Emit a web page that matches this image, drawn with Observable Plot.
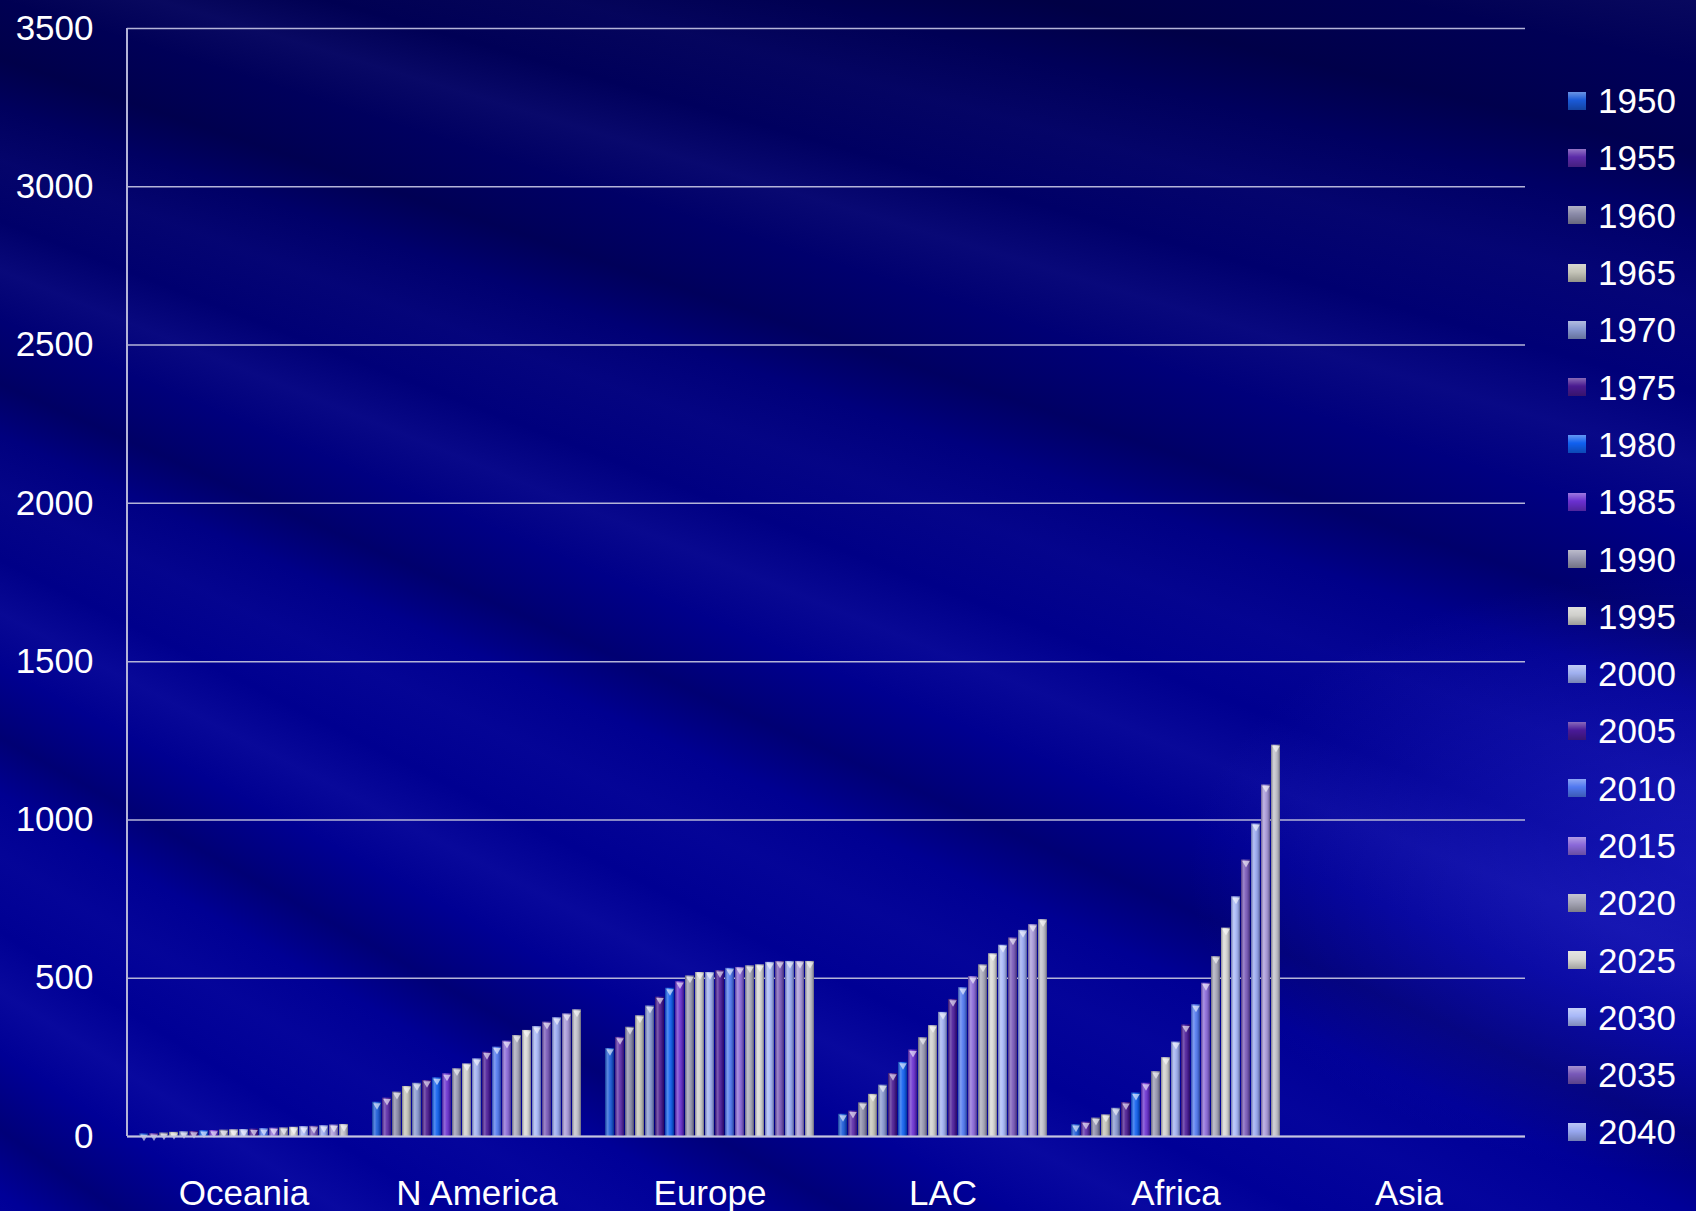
<!DOCTYPE html>
<html>
<head>
<meta charset="utf-8">
<script src="https://cdn.jsdelivr.net/npm/d3@7"></script>
<script src="https://cdn.jsdelivr.net/npm/@observablehq/plot@0.6"></script>
<style>
html, body { margin: 0; padding: 0; }
body {
  width: 1696px; height: 1211px; overflow: hidden; position: relative;
  font-family: "Liberation Sans", Arial, sans-serif;
  background:
    radial-gradient(ellipse 30% 25% at 100% 72%, rgba(70,70,255,0.30), rgba(0,0,0,0) 100%),
    repeating-conic-gradient(from 0deg at -180% -80%, rgba(255,255,255,0) 0deg, rgba(110,110,255,0.08) 0.8deg, rgba(255,255,255,0) 1.6deg, rgba(0,0,30,0.25) 2.6deg, rgba(255,255,255,0) 3.4deg, rgba(90,90,255,0.05) 4.3deg, rgba(255,255,255,0) 5.3deg),
    linear-gradient(to bottom, #000052 0%, #000078 30%, #00008f 55%, #000094 80%, #000098 100%);
}
#chart { position: absolute; left: 0; top: 0; }
#legend { position: absolute; left: 1568px; top: 72px; }
.item { height: 57.3px; display: flex; align-items: center; color: #fff; font-size: 35px; line-height: 1; }
.sw { width: 18px; height: 18px; margin-right: 12px; flex: none; }
</style>
</head>
<body>
<div id="chart"></div>
<div id="legend"></div>
<script>
// ---- data (urban population by region, millions) ----
const years = [1950, 1955, 1960, 1965, 1970, 1975, 1980, 1985, 1990, 1995, 2000,
               2005, 2010, 2015, 2020, 2025, 2030, 2035, 2040, 2045, 2050];
const legendYears = [1950, 1955, 1960, 1965, 1970, 1975, 1980, 1985, 1990, 1995, 2000,
                     2005, 2010, 2015, 2020, 2025, 2030, 2035, 2040];
const regions = ["Oceania", "N America", "Europe", "LAC", "Africa", "Asia"];
const oceania  = [8, 9, 11, 13, 15, 16, 18, 19, 20, 21, 22, 23, 25, 26, 27, 29, 31, 32, 34, 36, 38];
const nAmerica = [108, 121, 140, 158, 168, 177, 185, 198, 214, 229, 245, 266, 282, 301, 319, 335, 347, 361, 375, 387, 400];
const europe   = [278, 313, 345, 381, 412, 440, 468, 489, 507, 518, 518, 524, 531, 534, 539, 542, 550, 553, 553, 553, 553];
const lac      = [70, 80, 106, 133, 162, 199, 234, 273, 312, 350, 392, 433, 470, 505, 542, 577, 604, 627, 651, 669, 685];
const africa   = [37, 45, 58, 68, 89, 107, 137, 168, 205, 249, 298, 352, 416, 484, 568, 658, 757, 873, 987, 1110, 1236];
const asia     = [null, null, null, null, null, null, null, null, null, null, null,
                  null, null, null, null, null, null, null, null, null, null];
const colors = ["#1a5ad8", "#5b2aa8", "#8a8aa8", "#c4c4b8", "#8898d0", "#4a1a90", "#1060f0",
                "#6a30d0", "#9898b0", "#d0d0cc", "#a0b0f0", "#4a1a98", "#5078f0", "#8a68d8",
                "#a8a8b8", "#d8d8d4", "#a8b8f8", "#7858b8", "#98a8f0", "#a898d8", "#c0c0c8"];
const yTicks = [0, 500, 1000, 1500, 2000, 2500, 3000, 3500];

const series = {"Oceania": oceania, "N America": nAmerica, "Europe": europe, "LAC": lac, "Africa": africa, "Asia": asia};
const rows = regions.flatMap(r => years.map((yr, i) => ({region: r, year: yr, value: series[r][i]})));

const W = 1696, H = 1211, mL = 127, mR = 171, mT = 28, mB = 75;
const gridColor = "#b4b4d8";

const chart = Plot.plot({
  width: W, height: H,
  marginLeft: mL, marginRight: mR, marginTop: mT, marginBottom: mB,
  style: {background: "transparent", color: "#ffffff", fontSize: "35px",
          fontFamily: "'Liberation Sans', Arial, sans-serif", overflow: "visible"},
  fx: {domain: regions, padding: 0, label: null, axis: "bottom", tickSize: 0, tickPadding: 44},
  x: {domain: years, paddingInner: 0.14, paddingOuter: 0.6, axis: null},
  y: {domain: [0, 3500], ticks: yTicks, tickFormat: d => String(d), tickSize: 0, tickPadding: 34, label: null},
  color: {type: "ordinal", domain: years, range: colors},
  marks: [
    Plot.gridY(yTicks, {stroke: gridColor, strokeOpacity: 1, strokeWidth: 1.5}),
    Plot.barY(rows, {fx: "region", x: "year", y: "value", fill: "year"}),
    Plot.barY(rows, {fx: "region", x: "year", y: "value", fill: "url(#shine)"}),
    Plot.dot(rows, {fx: "region", x: "year", y: "value", symbol: "triangle", rotate: 180,
                    r: 2.8, fill: "#ffffff", fillOpacity: 0.6, dy: 3}),
    Plot.ruleY([0], {stroke: "#c4c4e0", strokeWidth: 2})
  ]
});

// shading gradient for the cylinder look
const svg = d3.select(chart);
const defs = svg.insert("defs", ":first-child");
const g = defs.append("linearGradient").attr("id", "shine")
  .attr("x1", "0").attr("x2", "1").attr("y1", "0").attr("y2", "0");
[[0, "#000020", 0.35], [0.3, "#ffffff", 0.28], [0.5, "#ffffff", 0.1], [0.8, "#000020", 0.15], [1, "#000020", 0.45]]
  .forEach(([o, c, a]) => g.append("stop").attr("offset", o).attr("stop-color", c).attr("stop-opacity", a));

// left axis line of the plot frame
svg.append("line").attr("x1", mL).attr("x2", mL).attr("y1", mT).attr("y2", H - mB)
  .attr("stroke", gridColor).attr("stroke-width", 2);

document.getElementById("chart").appendChild(chart);

// legend (only the entries visible in the original slide)
const legend = d3.select("#legend");
legendYears.forEach(yr => {
  const item = legend.append("div").attr("class", "item");
  item.append("div").attr("class", "sw")
    .style("background", `linear-gradient(180deg, rgba(255,255,255,0.35), rgba(255,255,255,0) 45%, rgba(0,0,0,0.25)), ${colors[years.indexOf(yr)]}`);
  item.append("span").text(yr);
});
</script>
</body>
</html>
